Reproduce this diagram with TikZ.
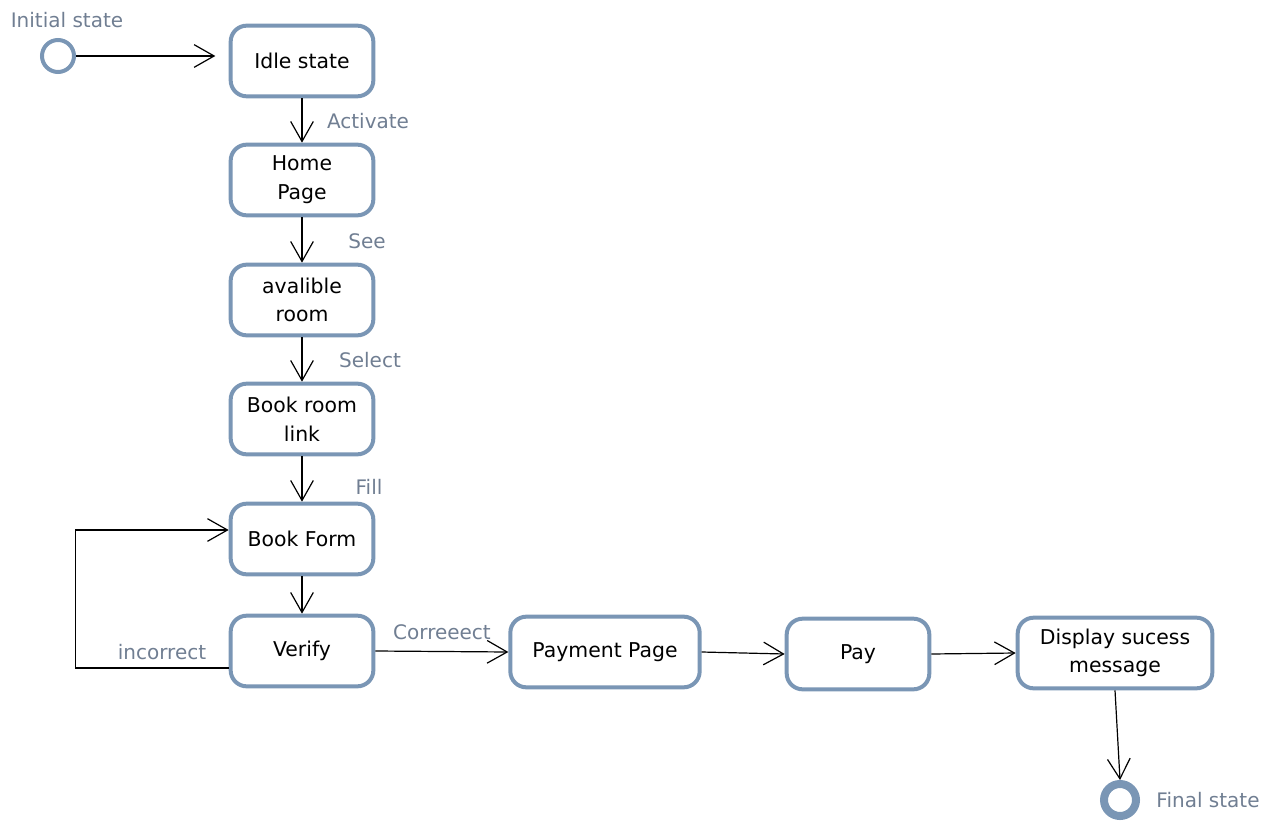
\documentclass[tikz,border=0pt]{standalone}
\usepackage{fontspec}
\setmainfont{DejaVu Sans}
\usetikzlibrary{arrows.meta}

\definecolor{stateblue}{RGB}{122,150,181}
\definecolor{labelgray}{RGB}{112,126,146}

\tikzset{
  stbox/.style={draw=stateblue, line width=3pt, rounded corners=12pt, fill=white,
    minimum width=107pt, minimum height=53pt, align=center, inner sep=2pt,
    font=\fontsize{15.3}{21.5}\selectfont},
  trans/.style={draw=black, line width=0.9pt, -{Straight Barb[length=15pt,width=17pt]}},
  trlabel/.style={text=labelgray, font=\fontsize{15}{17}\selectfont, inner sep=1pt}
}

\begin{document}
\begin{tikzpicture}[x=0.75pt,y=0.75pt,yscale=-1,xscale=1]
\useasboundingbox (0,0) rectangle (1276,823);

% pseudo states
\node (init) [circle, draw=stateblue, line width=3pt, minimum size=24pt, inner sep=0pt] at (58,56) {};
\node (final) [circle, draw=stateblue, line width=6pt, minimum size=24pt, inner sep=0pt] at (1120,800) {};

% states
\node (idle) [stbox] at (302,61) {Idle state};
\node (home) [stbox] at (302,180) {Home\\Page};
\node (avail) [stbox] at (302,300) {avalible\\room};
\node (booklink) [stbox] at (302,419) {Book room\\link};
\node (bookform) [stbox] at (302,539) {Book Form};
\node (verify) [stbox] at (302,651) {Verify};
\node (paypage) [stbox, minimum width=142pt] at (605,652) {Payment Page};
\node (pay) [stbox] at (858,654) {Pay};
\node (display) [stbox, minimum width=146pt] at (1115,653) {Display sucess\\message};

% transitions
\draw[trans, shorten >=10pt] (init) -- (init -| idle.west);
\draw[trans] (idle) -- (home);
\draw[trans] (home) -- (avail);
\draw[trans] (avail) -- (booklink);
\draw[trans] (booklink) -- (bookform);
\draw[trans] (bookform) -- (verify);
\draw[trans] ([yshift=12.75pt]verify.west) -- ++(-153,0) |- ([yshift=-6.75pt]bookform.west);
\draw[trans] (verify.east) -- (paypage.west);
\draw[trans] (paypage.east) -- (pay.west);
\draw[trans] (pay.east) -- (display.west);
\draw[trans] (display.south) -- (final.north);

% texts
\node (initlbl) [trlabel] at (67,20) {Initial state};
\node (finallbl) [trlabel] at (1208,800) {Final state};
\node (activate) [trlabel] at (368,121) {Activate};
\node (see) [trlabel] at (367,241) {See};
\node (select) [trlabel] at (370,360) {Select};
\node (fill) [trlabel] at (369,487) {Fill};
\node (incorrect) [trlabel] at (162,652) {incorrect};
\node (correct) [trlabel] at (442,632) {Correeect};

\end{tikzpicture}
\end{document}
